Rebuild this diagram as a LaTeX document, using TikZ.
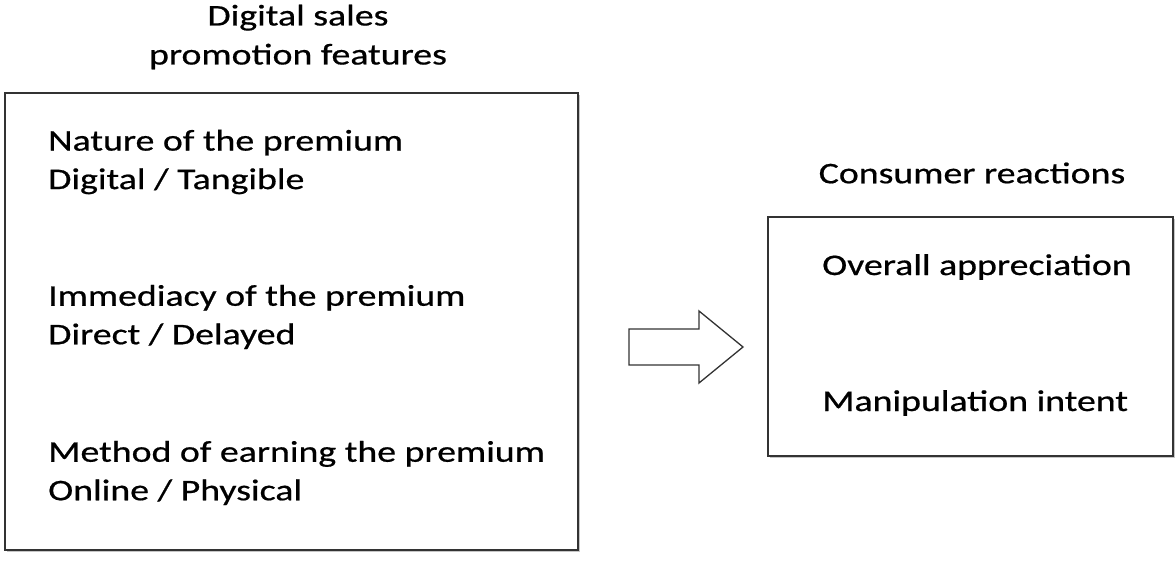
\documentclass[tikz,border=0pt]{standalone}
\usepackage{fontspec}
\setmainfont[FakeStretch=1.26,FakeBold=0.6]{Carlito}
\usetikzlibrary{shadows}
\begin{document}
\begin{tikzpicture}[x=1pt,y=-1pt,
  box/.style={draw=black!80, line width=1.3pt, fill=white, drop shadow={shadow xshift=1.5pt, shadow yshift=-1.5pt, opacity=0.45}},
  txt/.style={font=\fontsize{30}{38.5}\selectfont, inner sep=0pt, anchor=west, align=left},
  ttl/.style={font=\fontsize{30}{39}\selectfont, inner sep=0pt, align=center}]
\useasboundingbox (0,0) rectangle (1176,562);
\node[ttl] (t1) at (298,37) {Digital sales\\promotion features};
\node[ttl, anchor=center] (t2) at (972,173) {Consumer reactions};
\path[box] (5,93) rectangle (578,550);
\path[box] (768,217) rectangle (1173,456);
\node[txt] (a1) at (48,162) {Nature of the premium\\Digital / Tangible};
\node[txt] (a2) at (48,317) {Immediacy of the premium\\Direct / Delayed};
\node[txt] (a3) at (48,473) {Method of earning the premium\\Online / Physical};
\node[txt] (b1) at (822,267) {Overall appreciation};
\node[txt] (b2) at (822,403) {Manipulation intent};
\draw[line width=1.3pt, draw=black!80, fill=white, line join=miter]
  (629,329) -- (699,329) -- (699,311) -- (743,347) -- (699,383) -- (699,365) -- (629,365) -- cycle;
\end{tikzpicture}
\end{document}
